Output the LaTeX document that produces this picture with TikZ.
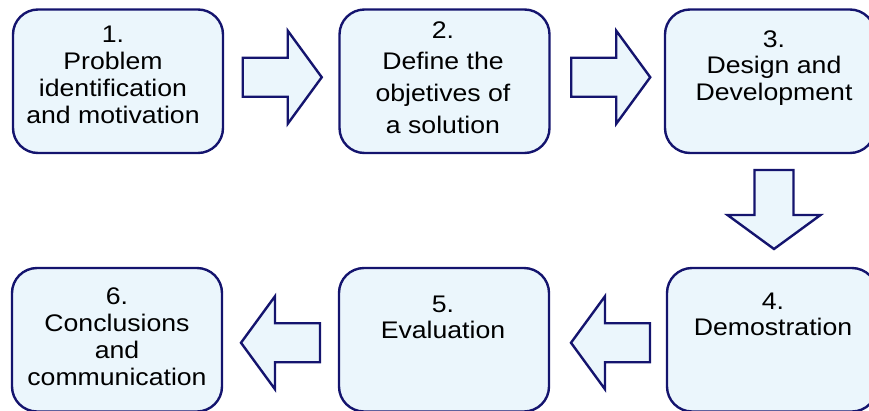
\documentclass[tikz,border=0pt]{standalone}
\usepackage{fontspec}
\setmainfont{Liberation Sans}[FakeStretch=1.11]
\usetikzlibrary{calc}

\definecolor{navy}{RGB}{20,20,110}
\definecolor{paleblue}{RGB}{235,246,252}

\tikzset{
  stepbox/.style={draw=navy, fill=paleblue, line width=2.4pt,
    rounded corners=25pt, minimum width=210pt, minimum height=143.5pt,
    inner sep=0pt},
  steptext/.style={inner sep=0pt, anchor=base},
  lines/.style={font=\fontsize{24}{#1}\selectfont},
  barrow/.pic={
    \draw[draw=navy, fill=paleblue, line width=2.4pt, line join=miter]
      (-39.5,-19.5) -- (5.5,-19.5) -- (5.5,-46.5) -- (39.5,0)
      -- (5.5,46.5) -- (5.5,19.5) -- (-39.5,19.5) -- cycle;
  }
}

% one text column, baseline on its first line
\newcommand{\steplines}[1]{\begin{tabular}[t]{@{}c@{}}#1\end{tabular}}

\begin{document}
\begin{tikzpicture}[x=1pt, y=-1pt]
\useasboundingbox (0,0) rectangle (869,410);
\begin{scope}
\clip (0,0) rectangle (869,410);

% process steps
\node[stepbox] (b1) at (118,81.25) {};
\node[stepbox] (b2) at (444.5,81.25) {};
\node[stepbox] (b3) at (770,81.25) {};
\node[stepbox] (b4) at (772,339.75) {};
\node[stepbox] (b5) at (444,339.75) {};
\node[stepbox] (b6) at (117,339.75) {};

% step labels
\node[steptext, lines=27] (t1) at (113,42)
  {\steplines{1.\\Problem\\identification\\and motivation}};
\node[steptext, lines=31.6] (t2) at (443,38.3)
  {\steplines{2.\\Define the\\objetives of\\a solution}};
\node[steptext, lines=26.5] (t3) at (774,47)
  {\steplines{3.\\Design and\\Development}};
\node[steptext, lines=26] (t4) at (773,309)
  {\steplines{4.\\Demostration}};
\node[steptext, lines=26] (t5) at (443,312)
  {\steplines{5.\\Evaluation}};
\node[steptext, lines=27.2] (t6) at (117,304)
  {\steplines{6.\\Conclusions\\and\\communication}};

% block arrows between consecutive steps
\pic (a12) at ($(b1.east)!0.5!(b2.west)+(1,-4)$) {barrow};
\pic (a23) at ($(b2.east)!0.5!(b3.west)+(3.5,-4)$) {barrow};
\pic[rotate=-90] (a34) at ($(b3.south)!0.5!(b4.north)+(3,-1)$) {barrow};
\pic[rotate=180] (a45) at ($(b5.east)!0.5!(b4.west)+(2.5,3)$) {barrow};
\pic[rotate=180] (a56) at ($(b6.east)!0.5!(b5.west)+(0,3)$) {barrow};
\end{scope}
\end{tikzpicture}
\end{document}
